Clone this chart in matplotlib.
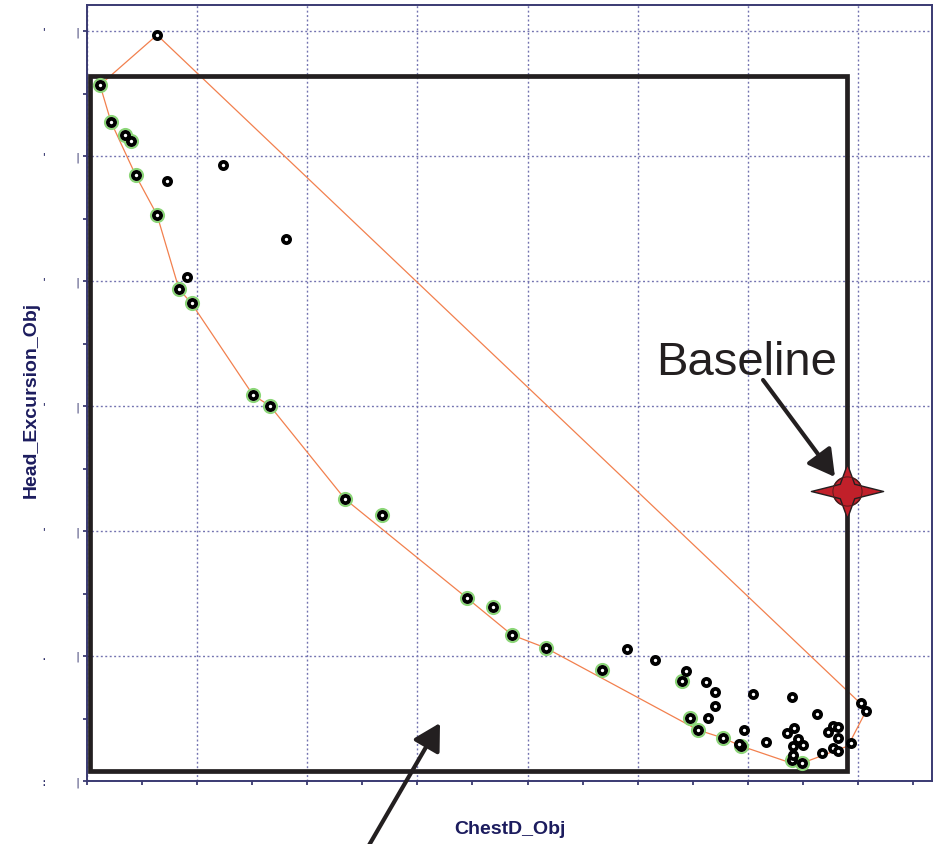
import matplotlib
matplotlib.use("Agg")
import matplotlib.pyplot as plt
from matplotlib.path import Path
from matplotlib.patches import Rectangle

# Designs on the Pareto front (highlighted with a green ring)
front_x = [0.118, 0.218, 0.345, 0.400, 0.445, 0.636, 0.835, 0.953, 1.507, 1.662,
           2.342, 2.678, 3.450, 3.686, 3.859, 4.167, 4.676, 5.402, 5.475, 5.548,
           5.775, 5.938, 6.401, 6.491]
front_y = [5.568, 5.272, 5.168, 5.120, 4.848, 4.528, 3.936, 3.824, 3.088, 3.000,
           2.256, 2.128, 1.464, 1.392, 1.168, 1.064, 0.888, 0.800, 0.504, 0.408,
           0.344, 0.280, 0.168, 0.144]

# Remaining evaluated designs
other_x = [0.636, 0.726, 1.235, 1.807, 0.908, 4.903, 5.157, 5.438, 5.620, 5.702,
           5.702, 5.638, 6.047, 5.965, 6.165, 6.401, 6.628, 6.356, 6.419, 6.455,
           6.410, 6.501, 6.410, 6.673, 6.728, 6.773, 6.819, 6.819, 6.773, 6.819,
           6.936, 7.027, 7.073, 5.920]
other_y = [5.968, 4.800, 4.928, 4.336, 4.032, 1.056, 0.968, 0.880, 0.792, 0.712,
           0.600, 0.504, 0.696, 0.408, 0.312, 0.672, 0.536, 0.384, 0.424, 0.336,
           0.280, 0.288, 0.208, 0.224, 0.392, 0.440, 0.432, 0.344, 0.264, 0.240,
           0.304, 0.624, 0.560, 0.296]

# Envelope of the design space
hull_x = [0.118, 0.218, 0.445, 0.636, 0.835, 0.953, 1.507, 1.662, 2.342, 3.450,
          3.859, 4.167, 5.548, 5.775, 5.938, 6.446, 6.909, 7.073, 7.009, 0.636, 0.118]
hull_y = [5.568, 5.272, 4.840, 4.528, 3.936, 3.816, 3.088, 3.000, 2.256, 1.464,
          1.168, 1.064, 0.408, 0.344, 0.280, 0.128, 0.280, 0.560, 0.632, 5.968, 5.568]

# Baseline design and the region it dominates
baseline_x, baseline_y = 6.900, 2.320
box_left, box_bottom, box_top = 0.027, 0.084, 5.644

navy = "#2b2b66"
label_col = "#1c1c5e"

fig = plt.figure(figsize=(9.34, 8.44), dpi=100)
ax = fig.add_axes([87 / 934, 63 / 844, 845 / 934, 776 / 844])
ax.set_xlim(0, 7.672)
ax.set_ylim(0, 6.208)

# grid and ticks
ax.set_xticks(range(0, 8))
ax.set_xticks([i + 0.5 for i in range(0, 8)], minor=True)
ax.set_yticks(range(0, 7))
ax.set_yticks([i + 0.5 for i in range(0, 6)], minor=True)
ax.grid(True, which="major", color="#7373b0", linestyle=(0, (1.4, 1.8)), linewidth=1.0)
ax.set_axisbelow(True)
ax.tick_params(axis="both", which="both", direction="out", color=navy, width=1.2, length=3)
ax.set_xticklabels([])
ylabels = [":    |"] + ["'    |"] * 6
ylabels[1] = ".    |"
ax.set_yticklabels(ylabels, family="DejaVu Sans Mono", fontsize=8, color=navy)
ax.tick_params(axis="y", which="major", pad=1)
for s in ax.spines.values():
    s.set_color("#3a3a72")
    s.set_linewidth(1.4)

# envelope
ax.plot(hull_x, hull_y, color="#f2804e", linewidth=0.9, zorder=3)

# dominated-region box
ax.add_patch(Rectangle((box_left, box_bottom), baseline_x - box_left, box_top - box_bottom,
                       fill=False, edgecolor="#231f20", linewidth=3.4, zorder=4))

# design points
ax.plot(front_x, front_y, linestyle="none", marker="o", markersize=9.4,
        markerfacecolor="none", markeredgecolor="#8cd678", markeredgewidth=1.5, zorder=5)
ax.plot(front_x + other_x, front_y + other_y, linestyle="none", marker="o",
        markersize=5.2, markerfacecolor="white", markeredgecolor="black",
        markeredgewidth=2.7, zorder=6)

# baseline marker: four-pointed star over a disc
star = Path([(1, 0), (0.2, 0.2), (0, 0.75), (-0.2, 0.2), (-1, 0),
             (-0.2, -0.2), (0, -0.75), (0.2, -0.2), (1, 0)],
            [Path.MOVETO] + [Path.LINETO] * 7 + [Path.CLOSEPOLY])
ax.plot([baseline_x], [baseline_y], marker="o", markersize=21, markerfacecolor="#c1202a",
        markeredgecolor="#231f20", markeredgewidth=1.0, zorder=8, clip_on=False)
ax.plot([baseline_x], [baseline_y], marker=star, markersize=52, markerfacecolor="#c1202a",
        markeredgecolor="#231f20", markeredgewidth=1.0, zorder=9, clip_on=False)
ax.plot([baseline_x], [baseline_y], marker="o", markersize=21, markerfacecolor="none",
        markeredgecolor="#5a1a1a", markeredgewidth=0.7, zorder=10, clip_on=False)

ax.text(5.166, 3.248, "Baseline", family="Liberation Sans", fontsize=34,
        color="#231f20", ha="left", va="baseline", zorder=10)
ax.annotate("", xy=(6.791, 2.432), xytext=(6.138, 3.208),
            arrowprops=dict(arrowstyle="-|>,head_length=0.8,head_width=0.45",
                            mutation_scale=20, color="#231f20", lw=3.0,
                            shrinkA=0, shrinkB=0),
            zorder=10)
ax.annotate("", xy=(3.205, 0.464), xytext=(2.530, -0.560),
            arrowprops=dict(arrowstyle="-|>,head_length=0.8,head_width=0.45",
                            mutation_scale=20, color="#231f20", lw=3.0,
                            shrinkA=0, shrinkB=0),
            annotation_clip=False, zorder=10)

ax.set_xlabel("ChestD_Obj", family="Liberation Sans", fontsize=14, fontweight="bold",
              color=label_col)
ax.xaxis.set_label_coords(0.5, -0.052)
ax.set_ylabel("Head_Excursion_Obj", family="Liberation Sans", fontsize=14,
              fontweight="bold", color=label_col)
ax.yaxis.set_label_coords(-0.0565, 0.491)

fig.savefig("out.png", dpi=100)
